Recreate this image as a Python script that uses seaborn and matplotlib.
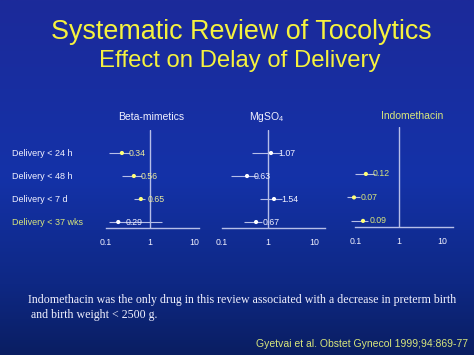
import numpy as np
import pandas as pd
import seaborn as sns
import matplotlib.pyplot as plt
from matplotlib import transforms
from matplotlib.ticker import NullLocator
from matplotlib.colors import LinearSegmentedColormap

# rows of the forest plots
outcomes = ["Delivery < 24 h", "Delivery < 48 h", "Delivery < 7 d", "Delivery < 37 wks"]

# beta-mimetics (point estimate, CI as drawn, printed value)
beta_est = [0.23, 0.43, 0.62, 0.19]
beta_lo = [0.12, 0.23, 0.43, 0.12]
beta_hi = [0.35, 0.66, 0.77, 1.87]
beta_txt = ["0.34", "0.56", "0.65", "0.29"]

# MgSO4
mg_est = [1.16, 0.35, 1.35, 0.55]
mg_lo = [0.45, 0.16, 0.67, 0.30]
mg_hi = [1.9, 0.58, 2.0, 0.74]
mg_txt = ["1.07", "0.63", "1.54", "0.67"]

# indomethacin (no < 24 h row)
indo_rows = ["Delivery < 48 h", "Delivery < 7 d", "Delivery < 37 wks"]
indo_est = [0.17, 0.09, 0.146]
indo_lo = [0.095, 0.062, 0.076]
indo_hi = [0.28, 0.124, 0.19]
indo_txt = ["0.12", "0.07", "0.09"]

x_ticks = [0.1, 1, 10]
x_ticklabels = ["0.1", "1", "10"]

YEL = "#f6f23e"
GRN = "#d8e67c"
PALE = "#ecec9c"
DOT = "#ffff78"
WHITE = "#f2f2ff"
LINE = "#b6bee8"

W, H = 474, 355

sns.set_theme(style="white")
plt.rcParams['font.family'] = ['Liberation Sans', 'DejaVu Sans']
plt.rcParams['mathtext.default'] = 'regular'

fig = plt.figure(figsize=(W / 100, H / 100), dpi=100)

def px_box(l, t, r, b):
    return [l / W, 1 - b / H, (r - l) / W, (b - t) / H]

def fy(y):
    return 1 - y / H

# background gradient
bg = fig.add_axes([0, 0, 1, 1])
cmap = LinearSegmentedColormap.from_list("bg", [(0, "#1c2a9a"), (0.5, "#1432a8"), (0.8, "#0e2884"), (1, "#0a1e62")])
bg.imshow(np.linspace(0, 1, 256).reshape(-1, 1), aspect="auto", cmap=cmap, extent=[0, 1, 0, 1])
bg.axis("off")

def draw_panel(box, xlim, rows, est, lo, hi, txt, dot_cols, txt_cols):
    ax = fig.add_axes(px_box(*box))
    ax.patch.set_alpha(0)
    df = pd.DataFrame({"row": [outcomes.index(r) for r in rows], "est": est, "lo": lo, "hi": hi})
    ax.hlines(df["row"], df["lo"], df["hi"], color=LINE, lw=0.8, clip_on=False)
    ax.axvline(1, color=LINE, lw=1.0)
    pal = {r: c for r, c in zip(df["row"], dot_cols)}
    sns.scatterplot(data=df, x="est", y="row", hue="row", palette=pal, s=9, linewidth=0,
                    legend=False, ax=ax, zorder=3, clip_on=False)
    for (_, d), t, c in zip(df.iterrows(), txt, txt_cols):
        ax.annotate(t, (d["est"], d["row"]), xytext=(5, 0), textcoords="offset points",
                    va="center", ha="left", fontsize=6.3, color=c, annotation_clip=False)
    ax.set_xscale("log")
    ax.set_xlim(*xlim)
    ax.set_ylim(3.26, -1.0)
    ax.set_xticks(x_ticks, x_ticklabels)
    ax.xaxis.set_minor_locator(NullLocator())
    ax.set_yticks([])
    ax.tick_params(axis="x", length=0, pad=7, labelsize=6.3, labelcolor=WHITE)
    ax.set_xlabel("")
    ax.set_ylabel("")
    for s in ["top", "right", "left"]:
        ax.spines[s].set_visible(False)
    ax.spines["bottom"].set_color(LINE)
    ax.spines["bottom"].set_linewidth(1.0)
    return ax

ax1 = draw_panel((106, 130, 199, 228), (0.1, 13), outcomes, beta_est, beta_lo, beta_hi, beta_txt,
                 [DOT, DOT, DOT, "white"], [PALE, PALE, PALE, WHITE])
ax2 = draw_panel((222, 130, 325, 228), (0.1, 17.3), outcomes, mg_est, mg_lo, mg_hi, mg_txt,
                 ["white"] * 4, [WHITE] * 4)
ax3 = draw_panel((355, 127, 453, 227), (0.095, 18), indo_rows, indo_est, indo_lo, indo_hi, indo_txt,
                 [DOT] * 3, [GRN] * 3)

# row labels on the left, aligned to the rows of the first panel
tr = transforms.blended_transform_factory(fig.transFigure, ax1.transData)
for i, lab in enumerate(outcomes):
    fig.text(12 / W, i, lab, transform=tr, ha="left", va="center", fontsize=6.5,
             color=GRN if i == 3 else WHITE)

# panel titles
fig.text(151 / W, fy(117), "Beta-mimetics", ha="center", va="center", fontsize=7.5, color=WHITE)
fig.text(267 / W, fy(117), "MgSO$_4$", ha="center", va="center", fontsize=7.5, color=WHITE)
fig.text(412 / W, fy(116), "Indomethacin", ha="center", va="center", fontsize=7.5, color=GRN)

# slide titles
fig.text(241 / W, fy(39), "Systematic Review of Tocolytics", ha="center", va="baseline",
         fontsize=19.4, color=YEL)
fig.text(240 / W, fy(67), "Effect on Delay of Delivery", ha="center", va="baseline",
         fontsize=17.2, color=YEL)

# footnote
fig.text(28 / W, fy(302.5), "Indomethacin was the only drug in this review associated with a decrease in preterm birth",
         ha="left", va="baseline", fontsize=8.55, color=WHITE, family="Liberation Serif")
fig.text(28 / W, fy(318), " and birth weight < 2500 g.", ha="left", va="baseline", fontsize=8.55,
         color=WHITE, family="Liberation Serif")
fig.text(468 / W, fy(347), "Gyetvai et al. Obstet Gynecol 1999;94:869-77", ha="right", va="baseline",
         fontsize=7.5, color=GRN)

fig.savefig("out.png", dpi=100)
